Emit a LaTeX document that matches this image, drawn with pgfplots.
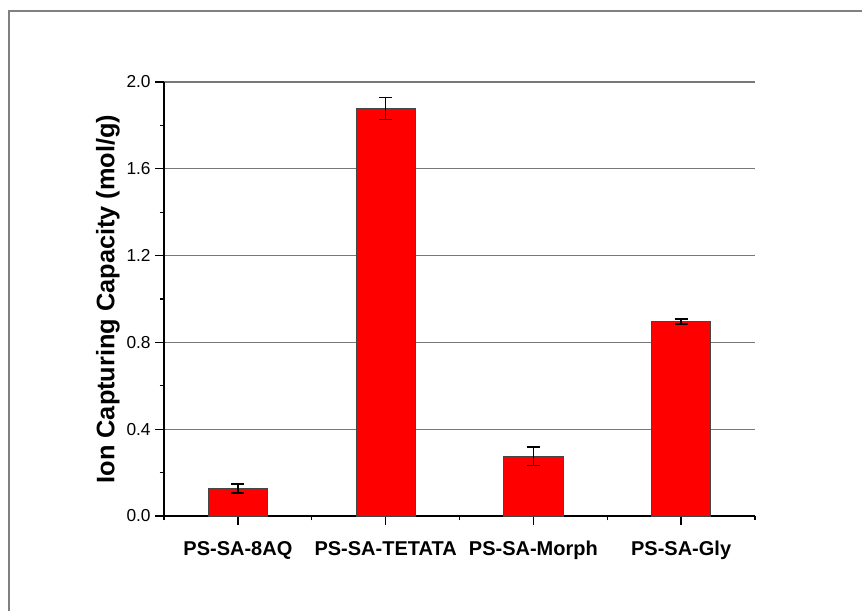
\documentclass[border=0pt]{standalone}
\usepackage{pgfplots}
\pgfplotsset{compat=1.18}
\usepackage{pgfplotstable}
\usepackage{fontspec}
\setmainfont{Liberation Sans}
\definecolor{framegray}{RGB}{128,128,128}
\definecolor{gridgray}{RGB}{120,120,120}
\definecolor{barred}{RGB}{255,0,0}
\definecolor{baredge}{RGB}{70,70,70}
\pgfplotstableread{
x y e
0 0.127 0.020
1 1.878 0.051
2 0.275 0.042
3 0.897 0.011
}\datatab
\begin{document}
\begin{tikzpicture}
\useasboundingbox (0,0) rectangle (646.5pt,458.25pt);
\draw[framegray, line width=1.5pt] (6.4pt,0) -- (6.4pt,450pt) -- (646.5pt,450pt);
\begin{axis}[
  at={(123pt,71.25pt)}, anchor=south west,
  scale only axis, width=443.25pt, height=325.5pt,
  xmin=-0.5, xmax=3.5, ymin=0, ymax=2.0,
  axis x line*=bottom, axis y line*=left,
  axis line style={black, line width=1.1pt},
  xtick={0,1,2,3},
  xticklabels={PS-SA-8AQ, PS-SA-TETATA, PS-SA-Morph, PS-SA-Gly},
  minor xtick={-0.5,0.5,1.5,2.5,3.5},
  ytick={0,0.4,0.8,1.2,1.6,2.0},
  minor ytick={0.2,0.6,1.0,1.4,1.8},
  tick align=outside,
  major tick length=6.5pt, minor tick length=3.2pt,
  x tick style={black, line width=1pt},
  y tick style={black, line width=1pt},
  ymajorgrids,
  major grid style={gridgray, line width=0.8pt},
  /pgf/number format/assume math mode=true,
  yticklabel style={font=\fontsize{13}{15}\selectfont, /pgf/number format/.cd, fixed, fixed zerofill, precision=1},
  xticklabel style={font=\fontsize{15}{17}\selectfont\bfseries, yshift=-9pt},
  ylabel={Ion Capturing Capacity (mol/g)},
  ylabel style={font=\fontsize{19}{21}\selectfont\bfseries, at={(axis description cs:-0.095,0.5)}, anchor=center},
  clip=false,
]
\addplot[ybar, bar width=0.4, fill=barred, draw=baredge, line width=0.6pt,
  error bars/.cd, y dir=both, y explicit,
  error bar style={black, line width=1.2pt},
  error mark options={rotate=90, mark size=4.9pt, line width=1.2pt, black}]
  table[x=x, y=y, y error=e] {\datatab};
\end{axis}
\end{tikzpicture}
\end{document}
